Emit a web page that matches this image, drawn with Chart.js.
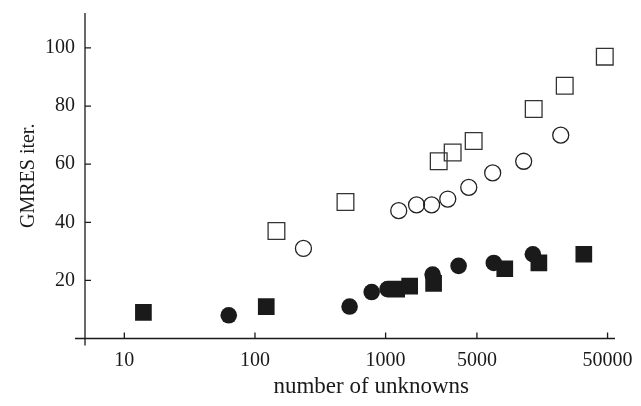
<!DOCTYPE html>
<html lang="en">
<head>
    <meta charset="UTF-8">
    <title>GMRES iter. vs number of unknowns</title>
    <script src="https://cdn.jsdelivr.net/npm/chart.js"></script>
    <style>
        body { margin: 0; background: #fff; }
        #wrap { width: 641px; height: 406px; }
    </style>
</head>
<body>
    <div id="wrap"><canvas id="chart"></canvas></div>
</body>

<script>

// tick labels
const xTicks = [10, 100, 1000, 5000, 50000];
const yTicks = [20, 40, 60, 80, 100];

// open squares
const openSqX = [146, 493, 2550, 3260, 4720, 13600, 23500, 47600];
const openSqY = [37, 47, 61, 64, 68, 79, 87, 97];

// open circles
const openCiX = [235, 1260, 1725, 2250, 2990, 4330, 6600, 11400, 21900];
const openCiY = [31, 44, 46, 46, 48, 52, 57, 61, 70];

// filled circles
const fillCiX = [63, 530, 782, 1035, 2290, 3620, 6730, 13400];
const fillCiY = [8, 11, 16, 17, 22, 25, 26, 29];

// filled squares
const fillSqX = [14, 122, 1215, 1528, 2330, 8170, 14900, 32900];
const fillSqY = [9, 11, 17, 18, 19, 24, 26, 29];

const xTitle = 'number of unknowns';
const yTitle = 'GMRES iter.';

const pts = (xs, ys) => xs.map((x, i) => ({x: x, y: ys[i]}));

const ink = '#1a1a1a';
const serif = '"Liberation Serif", serif';

// axis lines crossing at the corner, ticks pointing inward, axis titles
const axesPlugin = {
    id: 'axes',
    afterDraw(chart) {
        const c = chart.ctx, a = chart.chartArea;
        const sx = chart.scales.x, sy = chart.scales.y;
        c.save();
        c.strokeStyle = ink;
        c.lineWidth = 1.3;
        c.beginPath();
        c.moveTo(a.left - 10, a.bottom);
        c.lineTo(a.right, a.bottom);
        c.moveTo(a.left, a.top);
        c.lineTo(a.left, a.bottom + 7);
        xTicks.forEach(v => {
            const p = sx.getPixelForValue(v);
            c.moveTo(p, a.bottom);
            c.lineTo(p, a.bottom - 6);
        });
        yTicks.forEach(v => {
            const p = sy.getPixelForValue(v);
            c.moveTo(a.left, p);
            c.lineTo(a.left + 6, p);
        });
        c.stroke();

        c.fillStyle = ink;
        c.textAlign = 'center';
        c.textBaseline = 'alphabetic';
        c.font = '23px ' + serif;
        c.fillText(xTitle, a.left + (a.right - a.left) * 0.54, a.bottom + 54);
        c.translate(a.left - 51, (a.top + a.bottom) / 2);
        c.rotate(-Math.PI / 2);
        c.font = '20px ' + serif;
        c.fillText(yTitle, 0, 0);
        c.restore();
    }
};

new Chart(document.getElementById('chart'), {
    type: 'scatter',
    data: {
        datasets: [{
            data: pts(openSqX, openSqY),
            pointStyle: 'rect', pointRadius: 11.8,
            backgroundColor: 'rgba(0,0,0,0)', borderColor: '#333', borderWidth: 1.3
        }, {
            data: pts(openCiX, openCiY),
            pointStyle: 'circle', pointRadius: 8,
            backgroundColor: 'rgba(0,0,0,0)', borderColor: '#222', borderWidth: 1.3
        }, {
            data: pts(fillCiX, fillCiY),
            pointStyle: 'circle', pointRadius: 8.3,
            backgroundColor: ink, borderColor: ink, borderWidth: 0
        }, {
            data: pts(fillSqX, fillSqY),
            pointStyle: 'rect', pointRadius: 11.8,
            backgroundColor: ink, borderColor: ink, borderWidth: 0
        }]
    },
    options: {
        responsive: true,
        maintainAspectRatio: false,
        animation: false,
        layout: {padding: {top: 12, right: 26, left: 0, bottom: 0}},
        plugins: {legend: {display: false}, tooltip: {enabled: false}},
        scales: {
            x: {
                type: 'logarithmic',
                min: 5, max: 57000,
                afterBuildTicks: s => { s.ticks = xTicks.map(v => ({value: v})); },
                afterFit: s => { s.height = 67.5; s.paddingLeft = 0; s.paddingRight = 0; },
                grid: {display: false, drawTicks: false},
                border: {display: false},
                ticks: {
                    color: ink, font: {family: serif, size: 20}, padding: 10, maxRotation: 0,
                    callback: v => String(v)
                }
            },
            y: {
                min: 0, max: 112,
                afterBuildTicks: s => { s.ticks = yTicks.map(v => ({value: v})); },
                afterFit: s => { s.width = 85; s.paddingTop = 0; s.paddingBottom = 0; },
                grid: {display: false, drawTicks: false},
                border: {display: false},
                ticks: {color: ink, font: {family: serif, size: 20}, padding: 10}
            }
        }
    },
    plugins: [axesPlugin]
});

</script>
</html>
